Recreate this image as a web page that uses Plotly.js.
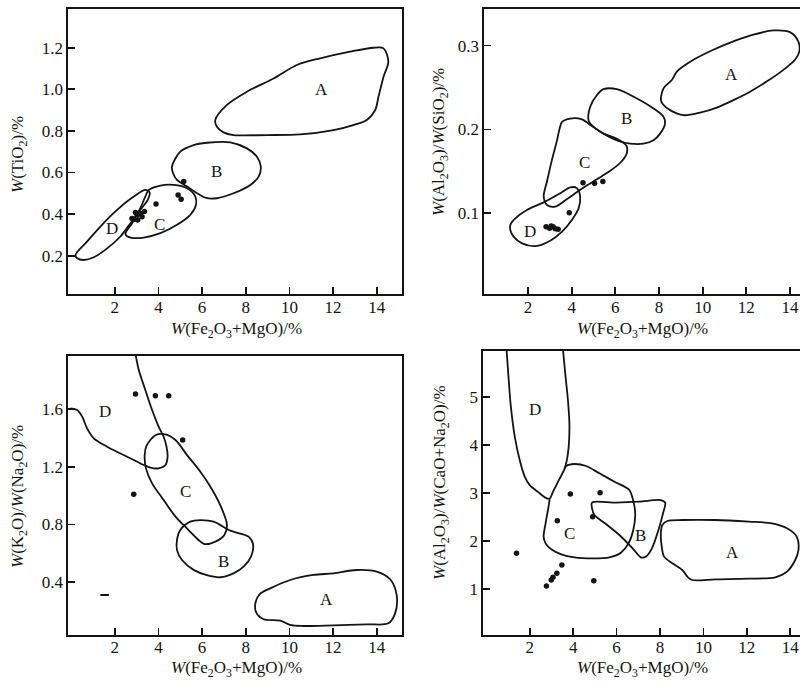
<!DOCTYPE html>
<html>
<head>
<meta charset="utf-8">
<script src="https://cdn.plot.ly/plotly-3.0.1.min.js"></script>
<style>html,body{margin:0;padding:0;background:#fff}#chart{width:800px;height:682px}</style>
</head>
<body>
<div id="chart"></div>
<script>
// ---------- Panel 1: TiO2 vs Fe2O3+MgO ----------
const p1A_x = [6.60,7.14,8.05,9.27,10.34,11.41,12.78,13.85,14.31,14.53,14.31,14.08,13.93,13.54,12.93,12.02,10.49,8.97,7.44,6.98,6.68,6.60];
const p1A_y = [0.852,0.925,0.988,1.052,1.117,1.149,1.181,1.200,1.197,1.133,1.061,0.965,0.901,0.852,0.828,0.804,0.783,0.780,0.780,0.793,0.820,0.852];
const p1B_x = [4.62,5.00,5.61,6.22,7.29,8.05,8.51,8.69,8.59,8.21,7.44,6.68,6.22,5.77,5.31,4.85,4.67,4.62];
const p1B_y = [0.628,0.700,0.732,0.743,0.745,0.716,0.676,0.628,0.580,0.540,0.500,0.476,0.476,0.500,0.532,0.564,0.596,0.628];
const p1C_x = [3.56,4.09,4.70,5.31,5.69,5.72,5.46,4.85,4.09,3.33,2.72,2.49,2.79,3.17,3.40,3.56];
const p1C_y = [0.516,0.537,0.540,0.524,0.484,0.444,0.396,0.348,0.308,0.287,0.287,0.303,0.356,0.428,0.484,0.516];
const p1D_x = [0.20,0.73,1.34,2.11,2.87,3.40,3.60,3.51,3.17,2.72,2.26,1.65,1.04,0.58,0.28,0.20];
const p1D_y = [0.203,0.267,0.340,0.420,0.484,0.516,0.503,0.468,0.420,0.356,0.292,0.235,0.192,0.179,0.187,0.203];
const p1Pts_x = [5.16,4.90,5.04,3.89,3.36,3.17,3.02,2.87,3.05,2.95,3.25,2.79];
const p1Pts_y = [0.556,0.492,0.471,0.448,0.412,0.403,0.395,0.374,0.371,0.408,0.387,0.378];

// ---------- Panel 2: Al2O3/SiO2 vs Fe2O3+MgO ----------
const p2A_x = [8.09,8.21,8.59,8.82,9.58,10.49,11.41,12.32,13.24,14.00,14.38,14.43,14.23,13.70,12.93,12.17,11.41,10.65,9.88,9.12,8.51,8.18,8.09];
const p2A_y = [0.235,0.249,0.259,0.269,0.283,0.295,0.305,0.313,0.318,0.316,0.305,0.293,0.283,0.271,0.257,0.245,0.235,0.226,0.220,0.217,0.223,0.230,0.235];
const p2B_x = [4.78,4.85,5.16,5.46,6.07,6.84,7.75,8.21,8.28,8.05,7.75,7.29,6.68,6.07,5.46,5.01,4.78];
const p2B_y = [0.210,0.227,0.241,0.248,0.248,0.239,0.225,0.215,0.207,0.195,0.187,0.183,0.183,0.187,0.195,0.203,0.210];
const p2C_x = [3.56,3.94,4.47,4.93,5.46,6.07,6.50,6.53,6.22,5.61,5.00,4.39,3.79,3.25,2.87,2.72,2.87,3.10,3.33,3.45,3.56];
const p2C_y = [0.209,0.213,0.212,0.204,0.195,0.189,0.181,0.172,0.160,0.148,0.138,0.128,0.117,0.108,0.110,0.120,0.138,0.164,0.187,0.201,0.209];
const p2D_x = [1.19,1.42,1.95,2.72,3.48,3.94,4.24,4.39,4.32,4.01,3.56,3.02,2.34,1.73,1.34,1.19,1.19];
const p2D_y = [0.0861,0.0940,0.104,0.113,0.124,0.131,0.130,0.120,0.106,0.0921,0.0781,0.0674,0.0610,0.0642,0.0722,0.0801,0.0861];
const p2Pts_x = [4.52,5.05,5.43,3.89,2.83,2.99,3.15,3.25,3.38,3.06];
const p2Pts_y = [0.1366,0.1358,0.1378,0.1008,0.0841,0.0821,0.0841,0.0817,0.0809,0.0849];

// ---------- Panel 3: K2O/Na2O vs Fe2O3+MgO ----------
const p3A_x = [8.44,8.63,9.12,10.03,11.10,12.02,13.08,14.00,14.61,14.91,14.84,14.53,13.54,12.02,10.65,10.03,9.58,8.82,8.48,8.44];
const p3A_y = [0.255,0.317,0.358,0.416,0.451,0.462,0.485,0.474,0.421,0.313,0.185,0.116,0.109,0.102,0.0975,0.105,0.135,0.144,0.190,0.255];
const p3B_x = [4.85,5.00,5.46,5.92,6.53,7.29,8.13,8.33,8.24,7.90,7.44,6.83,6.22,5.61,5.08,4.85,4.85];
const p3B_y = [0.693,0.762,0.820,0.831,0.820,0.758,0.716,0.665,0.578,0.508,0.462,0.435,0.449,0.486,0.554,0.623,0.693];
const p3C_x = [3.45,3.86,4.32,4.78,5.31,5.92,6.38,6.83,7.14,7.02,6.61,6.10,5.84,5.38,4.78,4.24,3.71,3.43,3.37,3.45];
const p3C_y = [1.344,1.418,1.424,1.385,1.281,1.166,1.062,0.935,0.797,0.728,0.682,0.665,0.693,0.762,0.855,0.970,1.085,1.189,1.281,1.344];
const p3D_x = [2.95,3.10,3.40,3.71,4.01,4.24,4.37,4.42,4.32,4.01,3.63,3.33,2.87,2.26,1.65,1.04,0.73,0.51,0.28,-0.03];
const p3D_y = [1.98,1.870,1.732,1.593,1.478,1.408,1.339,1.270,1.212,1.189,1.194,1.212,1.247,1.292,1.339,1.397,1.466,1.547,1.593,1.604];
const p3Dash_x = [1.34,1.73];
const p3Dash_y = [0.312,0.312];
const p3Pts_x = [2.95,3.86,4.47,5.11,2.87];
const p3Pts_y = [1.704,1.692,1.692,1.385,1.009];

// ---------- Panel 4: Al2O3/(CaO+Na2O) vs Fe2O3+MgO ----------
const p4A_x = [8.11,8.34,9.03,10.56,12.09,13.16,13.85,14.30,14.38,14.23,13.85,13.31,12.09,10.56,9.49,9.26,9.03,8.57,8.19,8.08,8.04,8.11];
const p4A_y = [2.340,2.424,2.444,2.444,2.410,2.375,2.271,2.097,1.819,1.611,1.368,1.250,1.222,1.208,1.194,1.264,1.403,1.542,1.681,1.889,2.167,2.340];
const p4B_x = [4.87,5.97,7.04,8.04,8.24,8.14,7.93,7.63,7.35,7.12,6.74,6.13,5.51,4.98,4.87,4.87];
const p4B_y = [2.806,2.806,2.826,2.861,2.806,2.583,2.236,1.854,1.681,1.667,1.854,2.132,2.361,2.549,2.688,2.806];
const p4C_x = [2.92,2.84,2.73,2.64,2.73,2.99,3.45,4.06,4.90,5.67,6.20,6.55,6.77,6.86,6.74,6.59,5.90,5.21,4.60,4.06,3.68,3.61];
const p4C_y = [2.875,2.653,2.375,2.097,1.958,1.833,1.729,1.667,1.646,1.667,1.764,1.958,2.236,2.583,2.896,3.069,3.243,3.417,3.569,3.611,3.569,3.52];
const p4D_x = [0.93,1.01,1.13,1.31,1.54,1.77,2.00,2.38,2.76,2.92,3.07,3.30,3.61,3.76,3.83,3.76,3.65,3.53];
const p4D_y = [6.0,5.50,4.81,4.18,3.69,3.35,3.17,3.03,2.90,2.89,3.03,3.24,3.52,3.83,4.39,4.94,5.43,6.0];
const p4Pts_x = [3.87,5.24,3.27,4.90,1.39,3.48,3.25,3.07,2.99,2.77,4.95];
const p4Pts_y = [2.986,3.014,2.431,2.514,1.750,1.507,1.333,1.250,1.194,1.069,1.181];

// ---------- Tick values and labels ----------
const xTicks = [2,4,6,8,10,12,14];
const p1YTicks = [0.2,0.4,0.6,0.8,1.0,1.2];
const p2YTicks = [0.1,0.2,0.3];
const p3YTicks = [0.4,0.8,1.2,1.6];
const p4YTicks = [1,2,3,4,5];

const regionNames = ['A','B','C','D'];
const p1Lab_x = [11.49,6.68,4.06,1.88], p1Lab_y = [0.997,0.604,0.348,0.332];
const p2Lab_x = [11.33,6.53,4.59,2.11], p2Lab_y = [0.265,0.213,0.160,0.0782];
const p3Lab_x = [11.68,6.99,5.26,1.55], p3Lab_y = [0.278,0.543,1.028,1.586];
const p4Lab_x = [11.33,7.12,3.83,2.23], p4Lab_y = [1.771,2.111,2.167,4.75];

const xTitle = '<i>W</i>(Fe<sub>2</sub>O<sub>3</sub>+MgO)/%';
const yTitles = [
  '<i>W</i>(TiO<sub>2</sub>)/%',
  '<i>W</i>(Al<sub>2</sub>O<sub>3</sub>)/<i>W</i>(SiO<sub>2</sub>)/%',
  '<i>W</i>(K<sub>2</sub>O)/<i>W</i>(Na<sub>2</sub>O)/%',
  '<i>W</i>(Al<sub>2</sub>O<sub>3</sub>)/<i>W</i>(CaO+Na<sub>2</sub>O)/%'
];

const FONT = 'Liberation Serif, Times New Roman, serif';
const INK = '#141414';

const traces = [];
function outline(x, y, ax) {
  traces.push({x: x, y: y, xaxis: 'x' + ax, yaxis: 'y' + ax, type: 'scatter', mode: 'lines',
    line: {color: INK, width: 1.8, shape: 'spline', smoothing: 0.9}, hoverinfo: 'skip', showlegend: false});
}
function pts(x, y, ax) {
  traces.push({x: x, y: y, xaxis: 'x' + ax, yaxis: 'y' + ax, type: 'scatter', mode: 'markers',
    marker: {color: INK, size: 5.5}, showlegend: false});
}
outline(p1A_x, p1A_y, ''); outline(p1B_x, p1B_y, ''); outline(p1C_x, p1C_y, ''); outline(p1D_x, p1D_y, ''); pts(p1Pts_x, p1Pts_y, '');
outline(p2A_x, p2A_y, '2'); outline(p2B_x, p2B_y, '2'); outline(p2C_x, p2C_y, '2'); outline(p2D_x, p2D_y, '2'); pts(p2Pts_x, p2Pts_y, '2');
outline(p3A_x, p3A_y, '3'); outline(p3B_x, p3B_y, '3'); outline(p3C_x, p3C_y, '3'); outline(p3D_x, p3D_y, '3'); pts(p3Pts_x, p3Pts_y, '3');
traces.push({x: p3Dash_x, y: p3Dash_y, xaxis: 'x3', yaxis: 'y3', type: 'scatter', mode: 'lines', line: {color: INK, width: 1.8}, showlegend: false});
outline(p4A_x, p4A_y, '4'); outline(p4B_x, p4B_y, '4'); outline(p4C_x, p4C_y, '4'); outline(p4D_x, p4D_y, '4'); pts(p4Pts_x, p4Pts_y, '4');

function xax(domain, range, mirror) {
  return {domain: domain, range: range, tickvals: xTicks, ticks: 'inside', ticklen: 7, tickwidth: 1.8, tickcolor: INK,
    showline: true, linewidth: 2, linecolor: INK, mirror: mirror, showgrid: false, zeroline: false,
    ticklabelstandoff: -4, tickfont: {family: FONT, size: 17, color: INK}, fixedrange: true};
}
function yax(domain, range, ticks, fmt, mirror, anchor) {
  return {domain: domain, range: range, tickvals: ticks, tickformat: fmt, ticks: 'inside', ticklen: 7, tickwidth: 1.8, tickcolor: INK,
    showline: true, linewidth: 2, linecolor: INK, mirror: mirror, showgrid: false, zeroline: false, anchor: anchor,
    tickfont: {family: FONT, size: 17, color: INK}, fixedrange: true};
}

const annotations = [];
function labels(lx, ly, ax) {
  for (let i = 0; i < regionNames.length; i++) {
    annotations.push({x: lx[i], y: ly[i], xref: 'x' + ax, yref: 'y' + ax, text: regionNames[i], showarrow: false,
      xanchor: 'center', yanchor: 'middle', font: {family: FONT, size: 17, color: INK}});
  }
}
labels(p1Lab_x, p1Lab_y, ''); labels(p2Lab_x, p2Lab_y, '2'); labels(p3Lab_x, p3Lab_y, '3'); labels(p4Lab_x, p4Lab_y, '4');

// axis titles placed as paper annotations
const titleFont = {family: FONT, size: 17, color: INK};
const xTitlePos = [[236/800, 1 - 330/682], [642/800, 1 - 330/682], [236/800, 1 - 669/682], [642/800, 1 - 669/682]];
xTitlePos.forEach(p => annotations.push({x: p[0], y: p[1], xref: 'paper', yref: 'paper', text: xTitle, showarrow: false,
  xanchor: 'center', yanchor: 'middle', font: titleFont}));
const yTitlePos = [[19/800, 1 - 155/682], [440/800, 1 - 142/682], [19/800, 1 - 497/682], [441/800, 1 - 483/682]];
yTitlePos.forEach((p, i) => annotations.push({x: p[0], y: p[1], xref: 'paper', yref: 'paper', text: yTitles[i], textangle: -90, showarrow: false,
  xanchor: 'center', yanchor: 'middle', font: titleFont}));

const layout = {
  width: 800, height: 682, margin: {l: 0, r: 0, t: 0, b: 0},
  paper_bgcolor: '#fff', plot_bgcolor: '#fff', showlegend: false,
  xaxis:  xax([0.0856, 0.5029], [-0.12, 15.17], true),
  yaxis:  yax([0.5685, 0.9861], [0.014, 1.384], p1YTicks, '.1f', true, 'x'),
  xaxis2: xax([0.6054, 1.0], [0.0, 14.46], true),
  yaxis2: yax([0.5685, 0.9861], [0.0035, 0.343], p2YTicks, '.1f', false, 'x2'),
  xaxis3: xax([0.0856, 0.5029], [-0.12, 15.17], true),
  yaxis3: yax([0.0689, 0.4780], [0.035, 1.967], p3YTicks, '.1f', true, 'x3'),
  xaxis4: xax([0.6041, 1.0], [-0.14, 14.45], true),
  yaxis4: yax([0.0689, 0.4853], [0.048, 5.965], p4YTicks, 'd', false, 'x4'),
  annotations: annotations
};
layout.xaxis.anchor = 'y'; layout.xaxis2.anchor = 'y2'; layout.xaxis3.anchor = 'y3'; layout.xaxis4.anchor = 'y4';

Plotly.newPlot('chart', traces, layout, {staticPlot: true, displayModeBar: false});
</script>
</body>
</html>
